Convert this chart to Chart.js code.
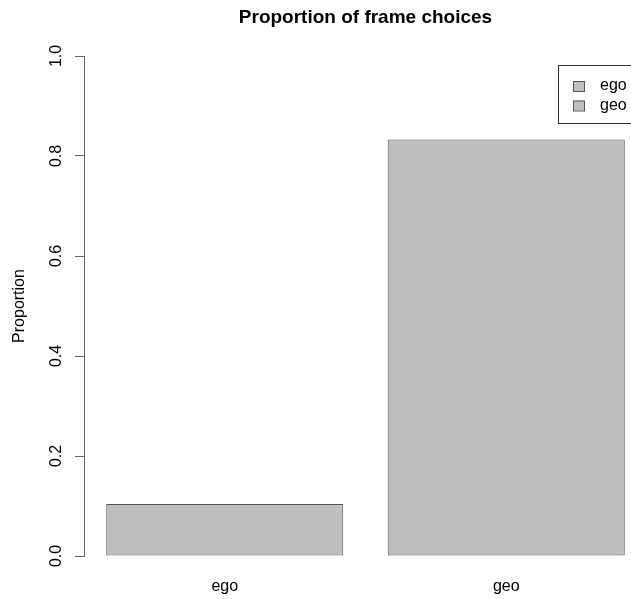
<!DOCTYPE html>
<html>
<head>
<meta charset="utf-8">
<script src="https://cdn.jsdelivr.net/npm/chart.js@4"></script>
<style>
  html, body { margin: 0; padding: 0; background: #fff; overflow: hidden; }
  #wrap { width: 680px; height: 599px; }
</style>
</head>
<body>
<div id="wrap"><canvas id="grafico"></canvas></div>
<script>
const categorias = ['ego', 'geo'];
const proporciones = [0.104, 0.833];
const ticksY = [0, 0.2, 0.4, 0.6, 0.8, 1.0];
const leyenda = ['ego', 'geo'];

const GRIS = '#bebebe';
const BORDE = '#555555';
const FUENTE = 'Liberation Sans, Arial, Helvetica, sans-serif';

// titulo, etiquetas del eje y y leyenda dibujados a mano, al estilo de R
const extras = {
  id: 'extras',
  afterDraw(chart) {
    const { ctx, chartArea } = chart;
    const escalaY = chart.scales.y;
    ctx.save();
    ctx.fillStyle = '#000';
    ctx.font = 'bold 19px ' + FUENTE;
    ctx.textAlign = 'center';
    ctx.textBaseline = 'middle';
    ctx.fillText('Proportion of frame choices', (chartArea.left + chartArea.right) / 2, 18);

    // etiquetas giradas del eje y
    ctx.font = '16px ' + FUENTE;
    ticksY.forEach(v => {
      const py = escalaY.getPixelForValue(v);
      ctx.save();
      ctx.translate(57, py);
      ctx.rotate(-Math.PI / 2);
      ctx.fillText(v.toFixed(1), 0, 0);
      ctx.restore();
    });

    // caja de la leyenda
    ctx.strokeStyle = '#333';
    ctx.lineWidth = 1;
    ctx.strokeRect(558.5, 65.5, 90, 58);
    ctx.textAlign = 'left';
    leyenda.forEach((txt, i) => {
      const cy = 86 + i * 19.5;
      ctx.fillStyle = GRIS;
      ctx.fillRect(573, cy - 5, 11, 10);
      ctx.strokeStyle = BORDE;
      ctx.strokeRect(573.5, cy - 4.5, 11, 10);
      ctx.fillStyle = '#000';
      ctx.fillText(txt, 600, cy);
    });
    ctx.restore();
  }
};

const ctx = document.getElementById('grafico').getContext('2d');
new Chart(ctx, {
  type: 'bar',
  data: {
    labels: categorias,
    datasets: [{
      label: 'Proportion',
      data: proporciones,
      backgroundColor: GRIS,
      borderColor: BORDE,
      borderWidth: 1,
      borderSkipped: false,
      categoryPercentage: 1,
      barPercentage: 0.842
    }]
  },
  options: {
    responsive: true,
    maintainAspectRatio: false,
    animation: false,
    layout: { padding: { top: 56, right: 33, left: 4, bottom: 0 } },
    plugins: {
      legend: { display: false },
      title: { display: false },
      tooltip: { enabled: false }
    },
    scales: {
      x: {
        afterFit(scale) { scale.height = 43; },
        grid: { display: false },
        border: { display: false },
        ticks: { color: '#000', font: { family: FUENTE, size: 16 }, padding: 13 }
      },
      y: {
        min: 0,
        max: 1,
        afterBuildTicks(scale) { scale.ticks = ticksY.map(v => ({ value: v })); },
        afterFit(scale) { scale.width = 80; },
        grid: { drawOnChartArea: false, drawTicks: true, tickLength: 9, color: '#666' },
        border: { display: true, color: '#666' },
        ticks: { display: false },
        title: {
          display: true,
          text: 'Proportion',
          color: '#000',
          font: { family: FUENTE, size: 16 },
          padding: { top: 6, bottom: 0 }
        }
      }
    }
  },
  plugins: [extras]
});
</script>
</body>
</html>
